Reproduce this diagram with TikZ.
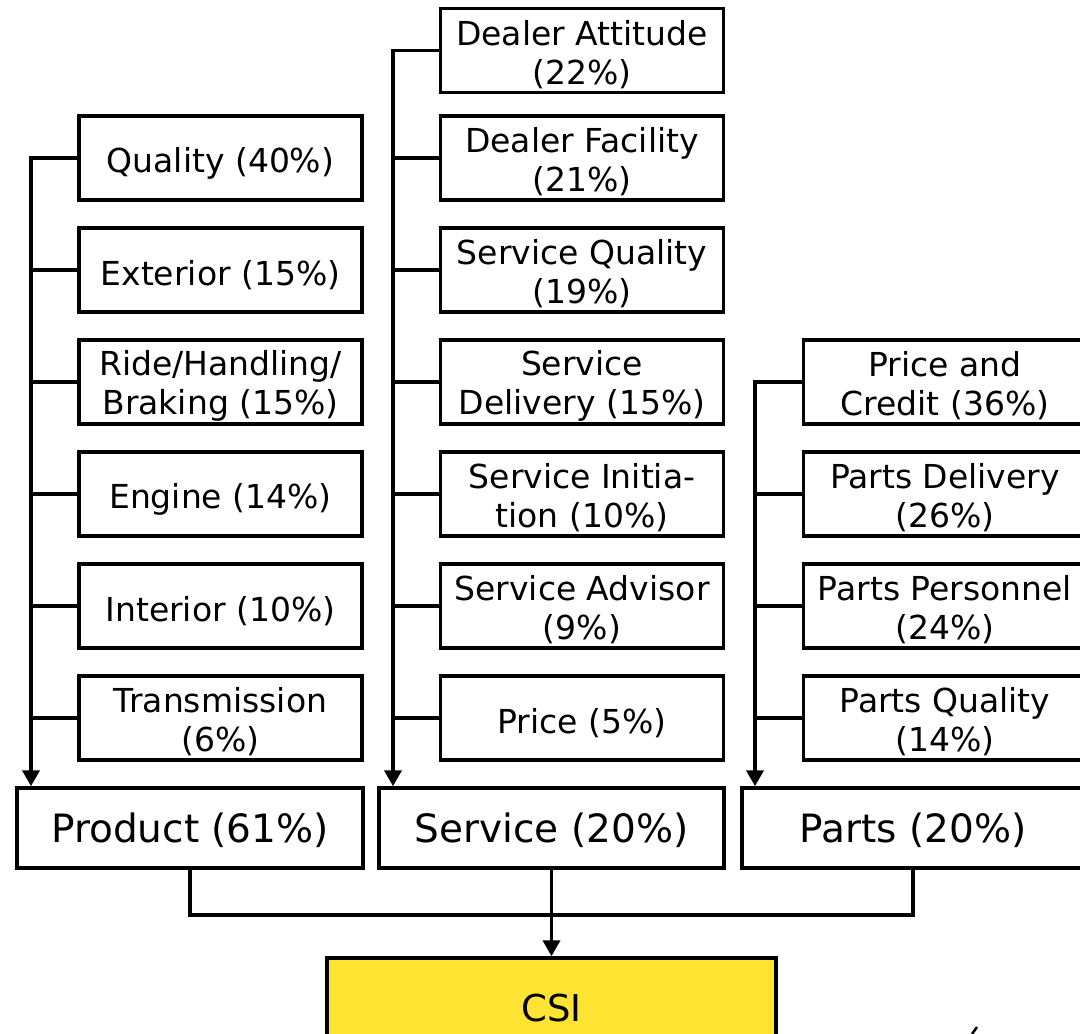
\documentclass[tikz,border=0pt]{standalone}
\usepackage{fontspec}
\setmainfont{DejaVu Sans}
\usetikzlibrary{arrows.meta}
\definecolor{csiyellow}{RGB}{255,227,51}
\newcommand{\mystrut}{\rule{0pt}{33pt}}
\begin{document}
\begin{tikzpicture}[x=1pt,y=-1pt,
  subbox/.style={draw=black, line width=3.5pt, fill=white, inner sep=0pt,
    minimum width=283pt, minimum height=84pt, align=center,
    font=\fontsize{33}{39}\selectfont,
    execute at begin node={\rule{0pt}{35pt}}},
  mainbox/.style={draw=black, line width=3.5pt, fill=white, inner sep=0pt,
    minimum height=80pt, align=center, font=\fontsize{39}{45}\selectfont,
    execute at begin node={\rule{0pt}{35pt}}},
  conn/.style={line width=3.8pt},
  arr/.style={line width=3.8pt, -{Triangle[width=17pt,length=16pt]}}]
\clip (0,0) rectangle (1080,1034);
\fill[white] (0,0) rectangle (1080,1034);

% Product column
\node[subbox] (quality) at (220.5,158) {Quality (40\%)};
\node[subbox] (exterior) at (220.5,270) {Exterior (15\%)};
\node[subbox] (ride) at (220.5,382) {\mystrut Ride/Handling/\\Braking (15\%)};
\node[subbox] (engine) at (220.5,494) {Engine (14\%)};
\node[subbox] (interior) at (220.5,606) {Interior (10\%)};
\node[subbox] (transmission) at (220.5,718) {\mystrut Transmission\\(6\%)};

% Service column
\node[subbox] (attitude) at (582,50.5) {\mystrut Dealer Attitude\\(22\%)};
\node[subbox] (facility) at (582,158) {\mystrut Dealer Facility\\(21\%)};
\node[subbox] (squality) at (582,270) {\mystrut Service Quality\\(19\%)};
\node[subbox] (sdelivery) at (582,382) {\mystrut Service\\Delivery (15\%)};
\node[subbox] (sinit) at (582,494) {\mystrut Service Initia-\\tion (10\%)};
\node[subbox] (sadvisor) at (582,606) {\mystrut Service Advisor\\(9\%)};
\node[subbox] (price) at (582,718) {Price (5\%)};

% Parts column
\node[subbox] (credit) at (945,382) {\mystrut Price and\\Credit (36\%)};
\node[subbox] (pdelivery) at (945,494) {\mystrut Parts Delivery\\(26\%)};
\node[subbox] (personnel) at (945,606) {\mystrut Parts Personnel\\(24\%)};
\node[subbox] (pquality) at (945,718) {\mystrut Parts Quality\\(14\%)};

% Main boxes
\node[mainbox, minimum width=346pt] (product) at (190,828) {Product (61\%)};
\node[mainbox, minimum width=345pt] (service) at (551.5,828) {Service (20\%)};
\node[mainbox, minimum width=342pt] (parts) at (913,828) {Parts (20\%)};
\node[mainbox, minimum width=449pt, minimum height=92pt, fill=csiyellow,
  font=\fontsize{37}{42}\selectfont, execute at begin node={}] (csi) at (551.5,1004) {CSI};

% trunk coordinates
\coordinate (ptrunk) at (31,158);
\coordinate (strunk) at (393,50.5);
\coordinate (rtrunk) at (755,382);

% Product connectors
\draw[arr] (quality.west) -- (ptrunk) -- (ptrunk |- product.north);
\foreach \n in {exterior,ride,engine,interior,transmission}
  \draw[conn] (\n.west) -- (\n.west -| ptrunk);

% Service connectors
\draw[arr] (attitude.west) -- (strunk) -- (strunk |- service.north);
\foreach \n in {facility,squality,sdelivery,sinit,sadvisor,price}
  \draw[conn] (\n.west) -- (\n.west -| strunk);

% Parts connectors
\draw[arr] (credit.west) -- (rtrunk) -- (rtrunk |- parts.north);
\foreach \n in {pdelivery,personnel,pquality}
  \draw[conn] (\n.west) -- (\n.west -| rtrunk);

% Bottom connectors
\draw[conn] (product.south) -- ++(0,45) -| (parts.south);
\draw[arr] (service.south) -- (csi.north);

% stray mark at lower right
\draw[line width=2.5pt] (972,1034) -- (977,1027);
\end{tikzpicture}
\end{document}
